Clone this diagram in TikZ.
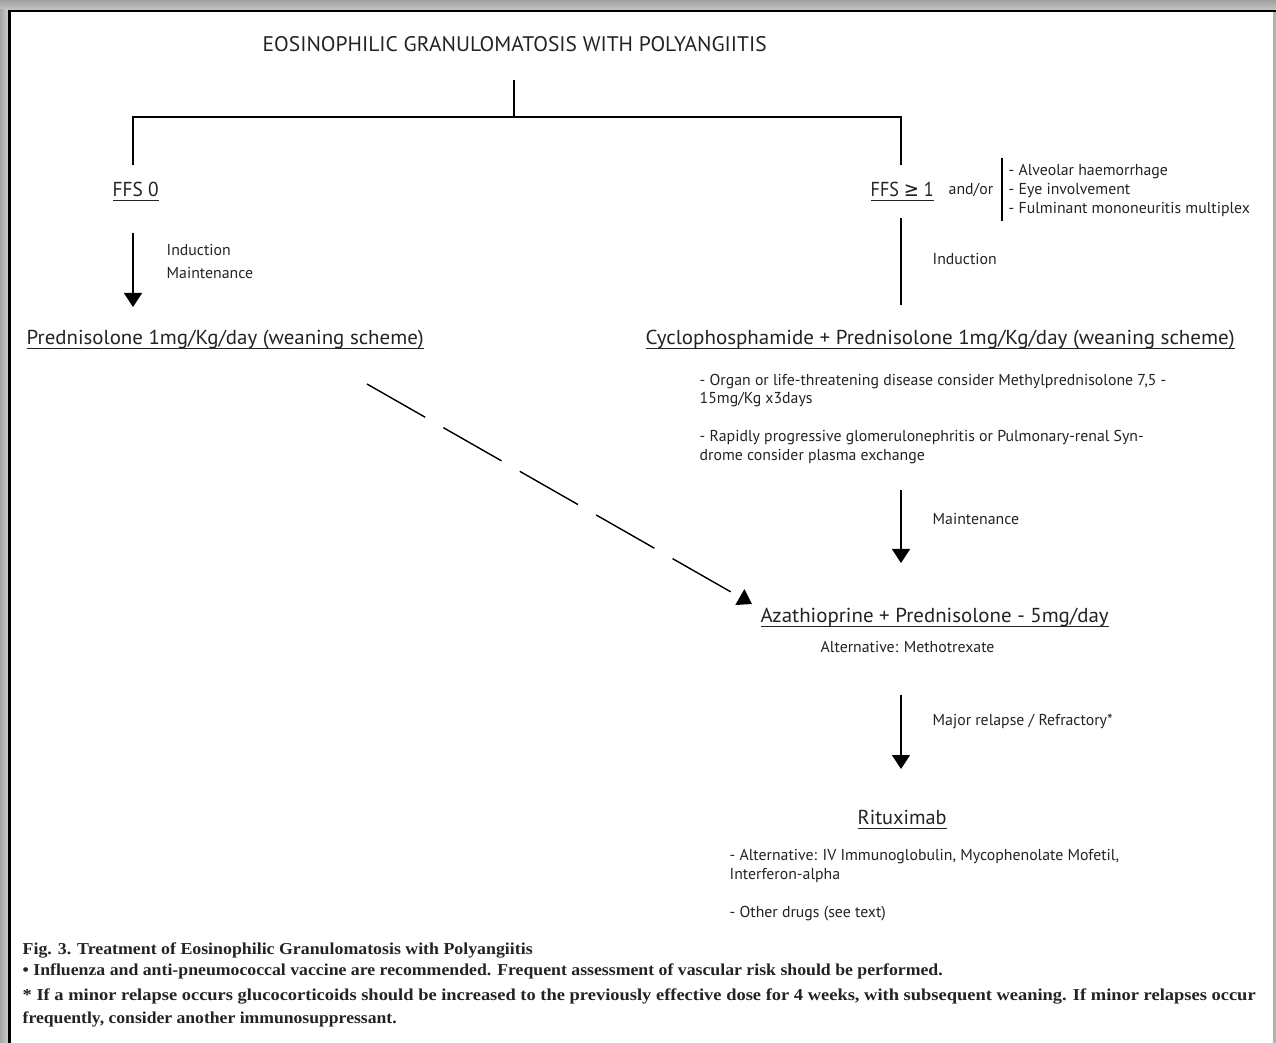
\documentclass[tikz,border=0pt]{standalone}
\usepackage{fontspec}
\setmainfont{PT Sans}
\newfontfamily\capfont{Liberation Serif}
\newfontfamily\symf{DejaVu Sans}
\usetikzlibrary{arrows.meta}
\newdimen\pxu \pxu=0.02cm
\newcommand\fw[2]{\resizebox{#1\pxu}{\height}{#2}}
\newcommand\ulx[1]{\setbox0\hbox{#1}\rlap{\rule[-2.2pt]{\wd0}{0.55pt}}\box0}
\definecolor{txt}{RGB}{35,35,35}
\begin{document}
\begin{tikzpicture}[x=0.02cm,y=-0.02cm, line width=0.8pt,
  big/.style={font=\fontsize{11.5}{13}\selectfont, inner sep=0, anchor=base west, text=txt},
  ttl/.style={font=\fontsize{12}{14}\selectfont, inner sep=0, anchor=base west, text=txt},
  small/.style={font=\fontsize{9}{11}\selectfont, inner sep=0, anchor=base west, text=txt},
  capt/.style={font=\capfont\bfseries\fontsize{9.5}{11}\selectfont, inner sep=0, anchor=base west, text=txt},
  arr/.style={-{Triangle[length=0.28cm,width=0.36cm]}},
  dsh/.style={arr, dash pattern=on 1.34cm off 0.42cm}]
% frame
\fill[white] (0,0) rectangle (1276,1043);
\shade[top color=gray!75, bottom color=gray!45] (0,0) rectangle (1276,10);
\shade[left color=gray!70, right color=gray!40] (0,10) rectangle (8,1043);
\fill[black] (8,10) rectangle (1276,12.5);
\fill[black] (8,10) rectangle (11,1043);
\fill[gray!60] (1273,12.5) rectangle (1276,1043);
\useasboundingbox (0,0) rectangle (1276,1043);

% title and tree
\node[ttl] (title) at (262,52) {\fw{504}{EOSINOPHILIC GRANULOMATOSIS WITH POLYANGIITIS}};
\coordinate (t0) at (514,80);
\coordinate (tj) at (514,117);
\coordinate (bl) at (133,165);
\coordinate (br) at (901,165);
\draw (t0) -- (tj);
\draw (bl) -- (bl |- tj) -- (br |- tj) -- (br);

% FFS nodes
\node[big] (ffs0) at (112,197) {\fw{46}{\ulx{FFS 0}}};
\node[big] (ffs1) at (870,197) {\fw{63}{\ulx{FFS {\symf ≥} 1}}};
\node[small] (andor) at (948,195) {and/or};
\coordinate (bar1) at (1002,158);
\coordinate (bar2) at (1002,221);
\draw (bar1) -- (bar2);
\node[small] (l1) at (1008,176) {- Alveolar haemorrhage};
\node[small] (l2) at (1008,195) {- Eye involvement};
\node[small] (l3) at (1008,214) {- Fulminant mononeuritis multiplex};

% left branch
\coordinate (a1s) at (133,233);
\coordinate (a1e) at (133,307);
\draw[arr] (a1s) -- (a1e);
\node[small] (ind1) at (166,256) {Induction};
\node[small] (mai1) at (166,279) {Maintenance};
\node[big] (pred) at (26,345) {\fw{397}{\ulx{Prednisolone 1mg/Kg/day (weaning scheme)}}};

% right branch
\coordinate (a2s) at (901,218);
\coordinate (a2e) at (901,305);
\draw (a2s) -- (a2e);
\node[small] (ind2) at (932,265) {Induction};
\node[big] (cyc) at (645,345) {\fw{589}{\ulx{Cyclophosphamide + Prednisolone 1mg/Kg/day (weaning scheme)}}};
\node[small] (b1) at (699,386) {- Organ or life-threatening disease consider Methylprednisolone 7,5 -};
\node[small] (b2) at (699,404) {15mg/Kg x3days};
\node[small] (b3) at (699,442) {- Rapidly progressive glomerulonephritis or Pulmonary-renal Syn-};
\node[small] (b4) at (699,461) {drome consider plasma exchange};

% maintenance
\coordinate (a3s) at (901,490);
\coordinate (a3e) at (901,563);
\draw[arr] (a3s) -- (a3e);
\node[small] (mai2) at (932,525) {Maintenance};
\node[big] (aza) at (760,623) {\fw{348}{\ulx{Azathioprine + Prednisolone - 5mg/day}}};
\node[small] (mtx) at (820,653) {Alternative: Methotrexate};

% dashed arrow
\coordinate (ds) at (367,384);
\coordinate (de) at (752,604);
\draw[dsh] (ds) -- (de);

% relapse
\coordinate (a4s) at (901,695);
\coordinate (a4e) at (901,769);
\draw[arr] (a4s) -- (a4e);
\node[small] (rel) at (932,726) {Major relapse / Refractory*};
\node[big] (rtx) at (857,825) {\fw{89}{\ulx{Rituximab}}};
\node[small] (c1) at (729,861) {- Alternative: IV Immunoglobulin, Mycophenolate Mofetil,};
\node[small] (c2) at (729,880) {Interferon-alpha};
\node[small] (c3) at (729,918) {- Other drugs (see text)};

% caption
\node[capt] (k1) at (22,955) {\fw{510}{Fig. 3. Treatment of Eosinophilic Granulomatosis with Polyangiitis}};
\node[capt] (k2) at (22,976) {\fw{920}{• Influenza and anti-pneumococcal vaccine are recommended. Frequent assessment of vascular risk should be performed.}};
\node[capt] (k3) at (22,1001) {\fw{1233}{* If a minor relapse occurs glucocorticoids should be increased to the previously effective dose for 4 weeks, with subsequent weaning. If minor relapses occur}};
\node[capt] (k4) at (22,1024) {\fw{374}{frequently, consider another immunosuppressant.}};
\end{tikzpicture}
\end{document}
